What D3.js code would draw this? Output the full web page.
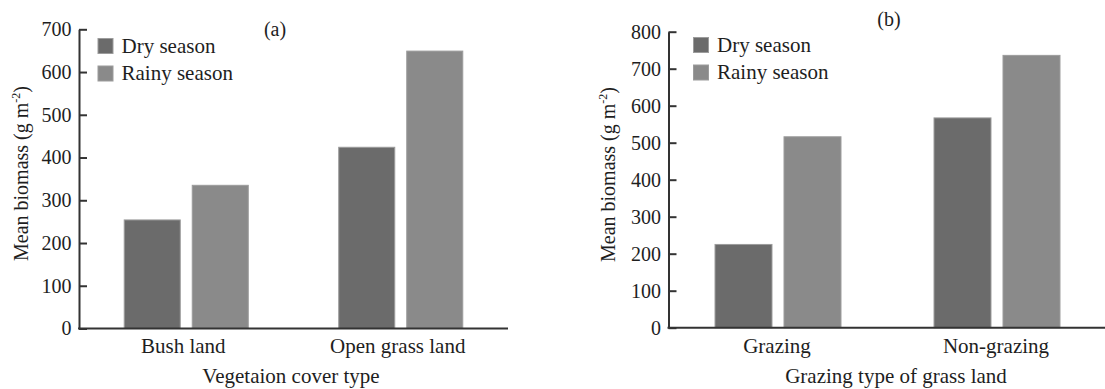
<!DOCTYPE html>
<html>
<head>
<meta charset="utf-8">
<script src="https://cdn.jsdelivr.net/npm/d3@7"></script>
<style>
  html, body { margin: 0; padding: 0; background: #fff; }
  svg { display: block; }
  svg text { font-family: "Liberation Serif", "Times New Roman", "DejaVu Serif", serif; fill: #1e1e1e; }
</style>
</head>
<body>
<svg id="chart" width="1105" height="389"></svg>
<script>
// Series shared by both panels
const seriesNames = ["Dry season", "Rainy season"];
const seriesColors = ["#6b6b6b", "#8a8a8a"];

// Panel (a): vegetation cover type
const categoriesA = ["Bush land", "Open grass land"];
const dryA = [254, 424];
const rainyA = [335, 649];
const ticksA = [0, 100, 200, 300, 400, 500, 600, 700];

// Panel (b): grazing type of grass land
const categoriesB = ["Grazing", "Non-grazing"];
const dryB = [225, 567];
const rainyB = [516, 736];
const ticksB = [0, 100, 200, 300, 400, 500, 600, 700, 800];

const FONT = '"Liberation Serif", "Times New Roman", "DejaVu Serif", serif';
const svg = d3.select("#chart");

function drawPanel(cfg) {
  const g = svg.append("g").attr("font-family", FONT);
  const x0 = d3.scaleBand().domain(cfg.categories).range(cfg.xRange).padding(0);
  const x1 = d3.scaleBand().domain(seriesNames).range([0, x0.bandwidth()])
    .paddingInner(cfg.innerPad).paddingOuter(cfg.outerPad);
  const y = d3.scaleLinear().domain([0, cfg.yMax]).range(cfg.yRange);

  const rows = cfg.categories.map((c, i) => ({ cat: c, vals: [cfg.dry[i], cfg.rainy[i]] }));

  // bars
  const groups = g.selectAll("g.grp").data(rows).join("g")
    .attr("class", "grp")
    .attr("transform", d => `translate(${x0(d.cat)},0)`);
  groups.selectAll("rect").data(d => d.vals.map((v, k) => ({ k, v }))).join("rect")
    .attr("x", d => x1(seriesNames[d.k]))
    .attr("width", x1.bandwidth())
    .attr("y", d => y(d.v))
    .attr("height", d => y(0) - y(d.v))
    .attr("fill", d => seriesColors[d.k])
    .attr("stroke", "#9c9c9c")
    .attr("stroke-width", 1);

  // y axis with inward ticks
  const yAxis = d3.axisLeft(y).tickValues(cfg.ticks).tickSize(-8).tickPadding(7.5).tickSizeOuter(0);
  const ya = g.append("g").attr("transform", `translate(${cfg.xRange[0]},0)`).call(yAxis)
    .attr("font-family", FONT).attr("font-size", 20);
  ya.select(".domain").attr("stroke", "#333").attr("stroke-width", 2);
  ya.selectAll(".tick line").attr("stroke", "#333").attr("stroke-width", 2);
  ya.selectAll(".tick text").attr("fill", "#1e1e1e");

  // x axis baseline
  g.append("line")
    .attr("x1", cfg.xRange[0] - 1).attr("x2", cfg.xAxisEnd)
    .attr("y1", y(0)).attr("y2", y(0))
    .attr("stroke", "#333").attr("stroke-width", 2);

  // category labels
  g.selectAll("text.cat").data(cfg.categories).join("text")
    .attr("class", "cat")
    .attr("x", d => x0(d) + x0.bandwidth() / 2 + cfg.catShift)
    .attr("y", 353)
    .attr("text-anchor", "middle")
    .attr("font-size", 21)
    .text(d => d);

  // x axis title
  g.append("text")
    .attr("x", cfg.xTitleX).attr("y", 383)
    .attr("text-anchor", "middle").attr("font-size", 21)
    .text(cfg.xTitle);

  // y axis title
  const yt = g.append("text")
    .attr("transform", `translate(${cfg.yTitleX},${cfg.yTitleY}) rotate(-90)`)
    .attr("text-anchor", "middle").attr("font-size", 20);
  yt.append("tspan").text("Mean biomass (g m");
  yt.append("tspan").attr("font-size", 12).attr("dy", -8).text("-2");
  yt.append("tspan").attr("dy", 8).text(")");

  // panel tag
  g.append("text")
    .attr("x", cfg.tagX).attr("y", cfg.tagY)
    .attr("text-anchor", "middle").attr("font-size", 20)
    .text(cfg.tag);

  // legend
  const leg = g.selectAll("g.leg").data(seriesNames).join("g")
    .attr("class", "leg")
    .attr("transform", (d, i) => `translate(${cfg.legX},${cfg.legY + i * 27.5})`);
  leg.append("rect").attr("x", 0).attr("y", 0).attr("width", 15).attr("height", 15)
    .attr("fill", (d, i) => seriesColors[i])
    .attr("stroke", "#9c9c9c").attr("stroke-width", 1);
  leg.append("text").attr("x", 23.5).attr("y", 14).attr("font-size", 21).text(d => d);
}

drawPanel({
  categories: categoriesA, dry: dryA, rainy: rainyA, ticks: ticksA, yMax: 700,
  xRange: [79, 508], xAxisEnd: 508, yRange: [328.5, 29.3],
  innerPad: 0.176, outerPad: 0.665, catShift: -3,
  xTitle: "Vegetaion cover type", xTitleX: 291,
  yTitleX: 28, yTitleY: 173.5,
  tag: "(a)", tagX: 275, tagY: 36,
  legX: 98, legY: 38.5
});

drawPanel({
  categories: categoriesB, dry: dryB, rainy: rainyB, ticks: ticksB, yMax: 800,
  xRange: [668.5, 1106.5], xAxisEnd: 1105, yRange: [327.7, 31.7],
  innerPad: 0.174, outerPad: 0.674, catShift: -1,
  xTitle: "Grazing type of grass land", xTitleX: 896,
  yTitleX: 615, yTitleY: 174.5,
  tag: "(b)", tagX: 889, tagY: 25.5,
  legX: 693.5, legY: 37.5
});
</script>
</body>
</html>
